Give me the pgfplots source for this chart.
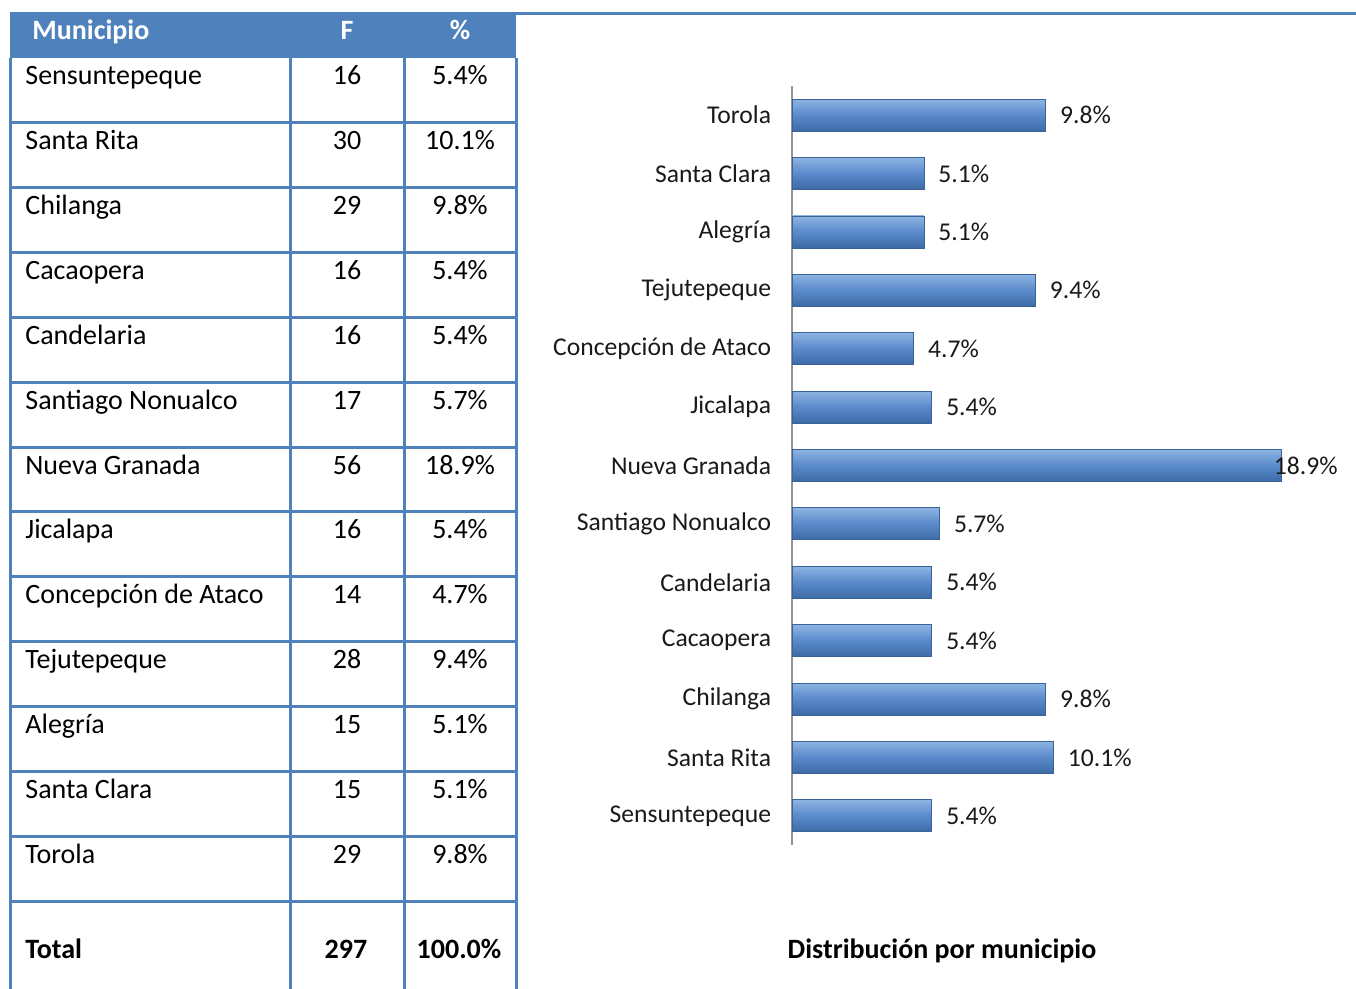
\documentclass[border=0pt]{standalone}
\usepackage{fontspec}
\setmainfont{Carlito}
\usepackage{pgfplots}
\pgfplotsset{compat=1.18}
\definecolor{tblue}{HTML}{4F81BD}
\definecolor{barTop}{HTML}{8DB3E2}
\definecolor{barMid}{HTML}{5A8ACB}
\definecolor{barBot}{HTML}{3D6AA6}
\definecolor{barEdge}{HTML}{3A6397}
\newcommand{\tfont}{\fontsize{14}{16}\selectfont}
\newcommand{\cfont}{\fontsize{12.8}{15}\selectfont}
\tikzset{bars/.style={top color=barTop, bottom color=barBot, middle color=barMid, draw=barEdge, line width=0.4pt}}

\begin{document}
\begin{tikzpicture}[x=0.5pt,y=0.5pt]
\useasboundingbox (0,0) rectangle (1356,-989);

% table, coordinates in image pixels (y down)
\begin{scope}[yscale=-1]
  \fill[tblue] (10,12) rectangle (516,58);
  \draw[tblue, line width=1.5pt] (516,13.5) -- (1356,13.5);
  \foreach \i in {1,...,13}
    \draw[tblue, line width=1.5pt] (10,{58+64.85*\i}) -- (516,{58+64.85*\i});
  \foreach \xx in {10,290,404,516}
    \draw[tblue, line width=1.5pt] (\xx,58) -- (\xx,989);
  \node[anchor=base west, inner sep=0pt, text=white, font=\tfont\bfseries] at (32,40) {Municipio};
  \node[anchor=base, inner sep=0pt, text=white, font=\tfont\bfseries] at (347,40) {F};
  \node[anchor=base, inner sep=0pt, text=white, font=\tfont\bfseries] at (460,40) {\%};
  \foreach \n/\f/\p [count=\i from 0] in {
      Sensuntepeque/16/5.4, Santa Rita/30/10.1, Chilanga/29/9.8,
      Cacaopera/16/5.4, Candelaria/16/5.4, Santiago Nonualco/17/5.7,
      Nueva Granada/56/18.9, Jicalapa/16/5.4, Concepción de Ataco/14/4.7,
      Tejutepeque/28/9.4, Alegría/15/5.1, Santa Clara/15/5.1, Torola/29/9.8} {
    \node[anchor=base west, inner sep=0pt, font=\tfont] at (25,{58+64.85*\i+27}) {\n};
    \node[anchor=base, inner sep=0pt, font=\tfont] at (347,{58+64.85*\i+27}) {\f};
    \node[anchor=base, inner sep=0pt, font=\tfont] at (460,{58+64.85*\i+27}) {\p\%};
  }
  \node[anchor=base west, inner sep=0pt, font=\tfont\bfseries] at (25,958) {Total};
  \node[anchor=base, inner sep=0pt, font=\tfont\bfseries] at (346,958) {297};
  \node[anchor=base, inner sep=0pt, font=\tfont\bfseries] at (459,958) {100.0\%};
  \node[anchor=base, inner sep=0pt, font=\tfont\bfseries] at (942,958) {Distribución por municipio};
\end{scope}

\begin{axis}[
    at={(396pt,-422.5pt)}, anchor=south west,
    scale only axis, width=259pt, height=379.5pt,
    xbar, bar width=16pt, bar shift=0pt,
    xmin=0, xmax=20, ymin=-0.5, ymax=12.5,
    axis x line=none, axis y line*=left,
    y axis line style={draw=gray!85, line width=1pt},
    ytick={0,...,12},
    yticklabels={Sensuntepeque, Santa Rita, Chilanga, Cacaopera, Candelaria,
      Santiago Nonualco, Nueva Granada, Jicalapa, Concepción de Ataco,
      Tejutepeque, Alegría, Santa Clara, Torola},
    ytick style={draw=none},
    yticklabel style={font=\cfont, inner sep=0pt, xshift=-6pt, text=black!90},
    point meta=x,
    /pgf/number format/assume math mode=true,
    nodes near coords={\pgfmathprintnumber[fixed,fixed zerofill,precision=1]{\pgfplotspointmeta}\%},
    every node near coord/.append style={anchor=west, inner sep=0pt, xshift=7pt, font=\cfont, text=black!90},
    clip=false,
]
% one plot per bar so each bar gets its own shading
\addplot[bars] coordinates {(5.4,0)};
\addplot[bars] coordinates {(10.1,1)};
\addplot[bars] coordinates {(9.8,2)};
\addplot[bars] coordinates {(5.4,3)};
\addplot[bars] coordinates {(5.4,4)};
\addplot[bars] coordinates {(5.7,5)};
\addplot[bars, every node near coord/.append style={xshift=-11pt}] coordinates {(18.9,6)};
\addplot[bars] coordinates {(5.4,7)};
\addplot[bars] coordinates {(4.7,8)};
\addplot[bars] coordinates {(9.4,9)};
\addplot[bars] coordinates {(5.1,10)};
\addplot[bars] coordinates {(5.1,11)};
\addplot[bars] coordinates {(9.8,12)};
\end{axis}
\end{tikzpicture}
\end{document}
